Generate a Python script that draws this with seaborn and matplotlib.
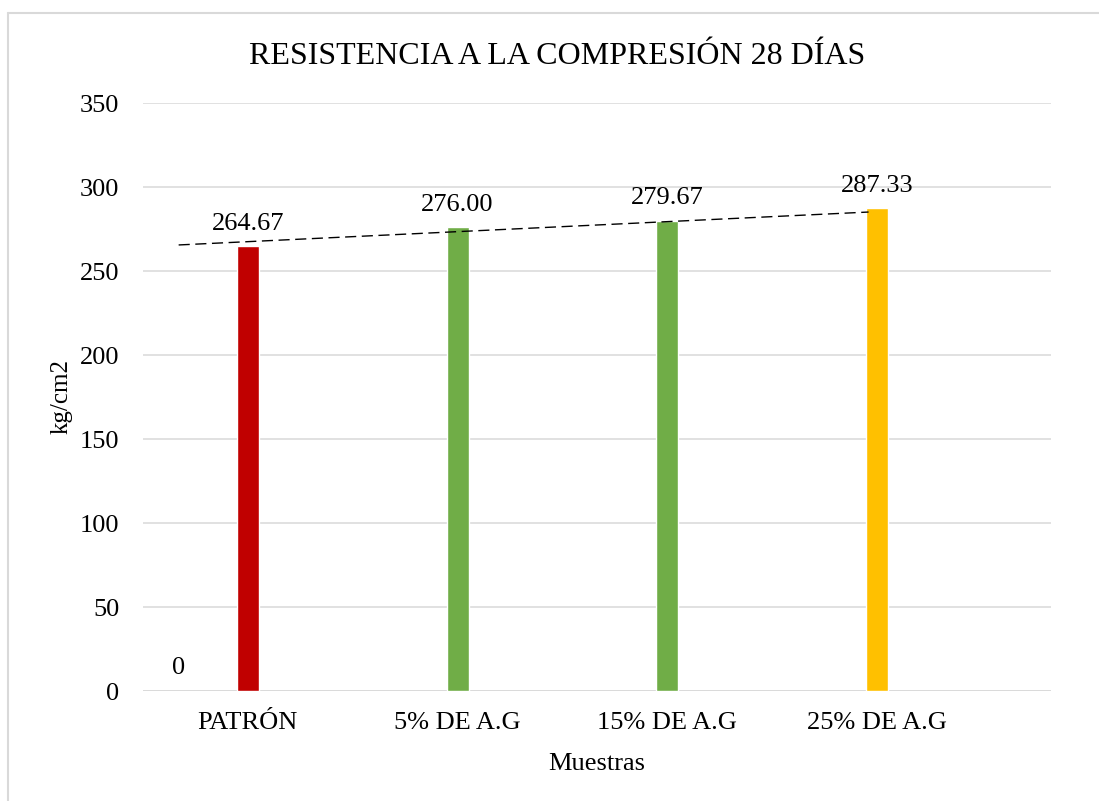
import matplotlib
matplotlib.use("Agg")
import matplotlib.pyplot as plt
from matplotlib.lines import Line2D
import seaborn as sns
import pandas as pd

categories = ["PATRÓN", "5% DE A.G", "15% DE A.G", "25% DE A.G"]
values = [264.67, 276.00, 279.67, 287.33]
aux_values = [0]
trend_values = [265.5, 285.1]
y_ticks = [0, 50, 100, 150, 200, 250, 300, 350]
colors = ["#C00000", "#70AD47", "#70AD47", "#FFC000"]

sns.set_theme(style="white")
plt.rcParams["font.family"] = ["Liberation Serif", "DejaVu Serif"]
plt.rcParams["text.color"] = "black"
plt.rcParams["axes.labelcolor"] = "black"

W, H = 1099, 801
fig = plt.figure(figsize=(W / 100, H / 100), dpi=100)
ax = fig.add_axes([143 / W, 1 - 691 / H, (1051 - 143) / W, (691 - 103) / H])

df = pd.DataFrame({"Muestra": categories, "Valor": values})
sns.barplot(data=df, x="Muestra", y="Valor", hue="Muestra", palette=colors,
            width=0.105, legend=False, ax=ax, saturation=1, zorder=3)

ax.set_xlim(-0.5, 3.83)
ax.set_ylim(0, 350)
ax.set_yticks(y_ticks)
ax.yaxis.grid(True, color="#D9D9D9", lw=1.1, zorder=0)
ax.set_axisbelow(True)
for s in ax.spines.values():
    s.set_visible(False)
ax.axhline(0, color="#D9D9D9", lw=1.1, zorder=1)
ax.tick_params(axis="both", length=0, labelsize=19, colors="black")
ax.tick_params(axis="y", pad=17)
ax.tick_params(axis="x", pad=15)

for i, v in enumerate(values):
    ax.annotate(f"{v:.2f}", (i, v), xytext=(0, 12), textcoords="offset points",
                ha="center", va="baseline", fontsize=19, color="black")
ax.annotate(f"{aux_values[0]:.0f}", (-0.33, aux_values[0]), xytext=(0, 12),
            textcoords="offset points", ha="center", va="baseline", fontsize=19,
            color="black")

ax.plot([-0.33, 2.96], trend_values, color="black", lw=1.0,
        dashes=(8, 4), zorder=4)

ax.set_xlabel("Muestras", fontsize=19, labelpad=14, color="black")
ax.set_ylabel("kg/cm2", fontsize=18, labelpad=5, color="black")

fig.text(557 / W, 1 - 56 / H, "RESISTENCIA A LA COMPRESIÓN 28 DÍAS",
         ha="center", va="center", fontsize=23, color="black")

fig.add_artist(Line2D([8 / W, 1], [1 - 13 / H, 1 - 13 / H], transform=fig.transFigure,
                      color="#D9D9D9", lw=1.5))
fig.add_artist(Line2D([8 / W, 8 / W], [0, 1 - 13 / H], transform=fig.transFigure,
                      color="#D9D9D9", lw=1.5))

fig.savefig("out.png", dpi=100)
